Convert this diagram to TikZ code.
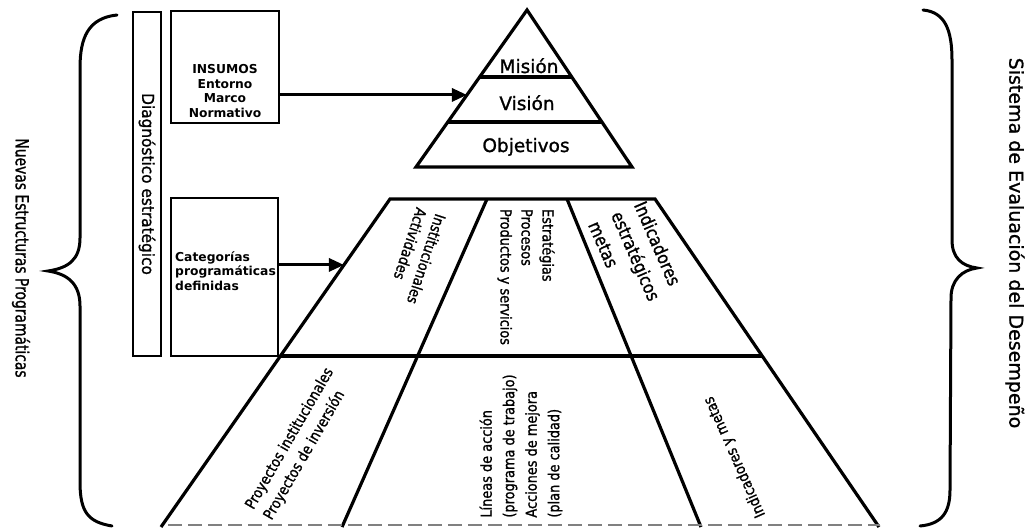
\documentclass[tikz,border=0pt]{standalone}
\usepackage{fontspec}
\setmainfont{DejaVu Sans}[FakeBold=1.2]
\newfontfamily\boxfont{DejaVu Sans Bold}
\newfontfamily\cellfont{DejaVu Sans}[FakeStretch=0.86,FakeBold=1.2]
\newfontfamily\diagfont{DejaVu Sans}[FakeStretch=0.93,FakeBold=1.2]
\newfontfamily\sidefont{DejaVu Sans}[FakeStretch=0.77,FakeBold=1.2]
\usetikzlibrary{calc,arrows.meta}
\begin{document}
\begin{tikzpicture}[x=1pt,y=-1pt,
  heavy/.style={line width=3.2pt,line join=miter,line cap=butt},
  framebox/.style={draw,line width=1.3pt,inner sep=0pt},
  flow/.style={line width=3pt,-{Triangle[length=15pt,width=13pt]}},
  brace/.style={line width=3pt,line cap=round},
  boxtext/.style={inner sep=0pt,font=\boxfont\fontsize{12.3}{14.7}\selectfont},
  level/.style={inner sep=0pt,anchor=base,font=\fontsize{18.5}{18.5}\selectfont},
  cell/.style={inner sep=0pt,align=left,font=\cellfont\fontsize{15}{21}\selectfont},
  bigcell/.style={inner sep=0pt,align=left,font=\cellfont\fontsize{18}{25}\selectfont}]
\useasboundingbox (0,0) rectangle (1035,527);

% ---- pyramid: Mision / Vision / Objetivos
\coordinate (apex) at (527,10);
\coordinate (tbl) at (416,167);
\coordinate (tbr) at (632,167);
\draw[heavy] (apex) -- (tbr) -- (tbl) -- cycle;
\draw[heavy] ($(apex)!0.427!(tbl)$) -- ($(apex)!0.427!(tbr)$);
\draw[heavy] ($(apex)!0.713!(tbl)$) -- ($(apex)!0.713!(tbr)$);
\node[level] (mision) at (529,73) {Misión};
\node[level] (vision) at (527,110) {Visión};
\node[level] (objetivos) at (526,152) {Objetivos};

% ---- lower trapezoid, split in columns and rows
\coordinate (qa) at (390,199);
\coordinate (qb) at (487,199);
\coordinate (qc) at (567,199);
\coordinate (qd) at (655,199);
\coordinate (pa) at (161,527);
\coordinate (pb) at (342,527);
\coordinate (pc) at (701,527);
\coordinate (pd) at (879,527);
\draw[heavy] (pa) -- (qa) -- (qd) -- (pd);
\draw[heavy] (qb) -- (pb);
\draw[heavy] (qc) -- (pc);
\draw[heavy] ($(qa)!0.4787!(pa)$) -- ($(qd)!0.4787!(pd)$);
\coordinate (da) at (168,525);
\coordinate (db) at (880,525);
\draw[gray,line width=1.2pt,dash pattern=on 14pt off 6pt] (da) -- (db);

% ---- cell texts
\node[cell,rotate=-108,font=\cellfont\fontsize{15}{20}\selectfont] (actividades) at (417,256) {Institucionales\\Actividades};
\node[cell,rotate=-90] (estrategias) at (526,277) {Estratégias\\Procesos\\Productos y servicios};
\node[bigcell,rotate=-66.5] (indicadores) at (636,256) {Indicadores\\estratégicos\\metas};
\node[cell,rotate=60] (proyectos) at (299,444) {Proyectos institucionales\\Proyectos de inversión};
\node[cell,rotate=90,font=\cellfont\fontsize{15}{22.5}\selectfont] (lineas) at (521,446) {Líneas de acción\\(programa de trabajo)\\Acciones de mejora\\(plan de calidad)};
\node[cell,rotate=114] (metas) at (735,457) {Indicadores y metas};

% ---- left column boxes
\node[framebox,rotate=-90,minimum width=344pt,minimum height=28pt,font=\diagfont\fontsize{16.5}{16.5}\selectfont] (diag) at (147,184) {Diagnóstico estratégico};
\node[framebox,minimum width=108pt,minimum height=112pt] (insumos) at (225,67) {};
\node[boxtext,align=center] (insumos-txt) at (225,91) {INSUMOS\\Entorno\\Marco\\Normativo};
\node[framebox,minimum width=107pt,minimum height=158pt] (categorias) at (224.5,277) {};
\node[boxtext,align=left,anchor=west] (categorias-txt) at (175,271) {Categorías\\programáticas\\definidas};

% ---- arrows into the pyramid and the trapezoid
\coordinate (tri-in) at ($(apex)!0.541!(tbl)$);
\draw[flow] (insumos.east |- tri-in) -- (tri-in);
\coordinate (trap-in) at ($(qa)!0.201!(pa)$);
\draw[flow] (categorias.east |- trap-in) -- (trap-in);

% ---- side braces and their labels
\draw[brace] (117,15) .. controls (88,18) and (80,38) .. (80,68) -- (80,238)
  .. controls (80,260) and (68,268) .. (48,271)
  .. controls (68,274) and (80,284) .. (80,306) -- (80,482)
  .. controls (80,512) and (88,522) .. (112,526);
\draw[brace] (923,10) .. controls (945,12) and (952,30) .. (952,60) -- (952,240)
  .. controls (952,258) and (962,266) .. (977,268)
  .. controls (962,270) and (951,280) .. (951,298) -- (950,490)
  .. controls (950,512) and (942,524) .. (920,526);
\node[rotate=-90,inner sep=0pt,font=\sidefont\fontsize{18}{18}\selectfont] (nuevas) at (21,258) {Nuevas Estructuras Programáticas};
\node[rotate=-90,inner sep=0pt,font=\fontsize{19}{19}\selectfont] (sistema) at (1015,243) {Sistema de Evaluación del Desempeño};
\end{tikzpicture}
\end{document}
